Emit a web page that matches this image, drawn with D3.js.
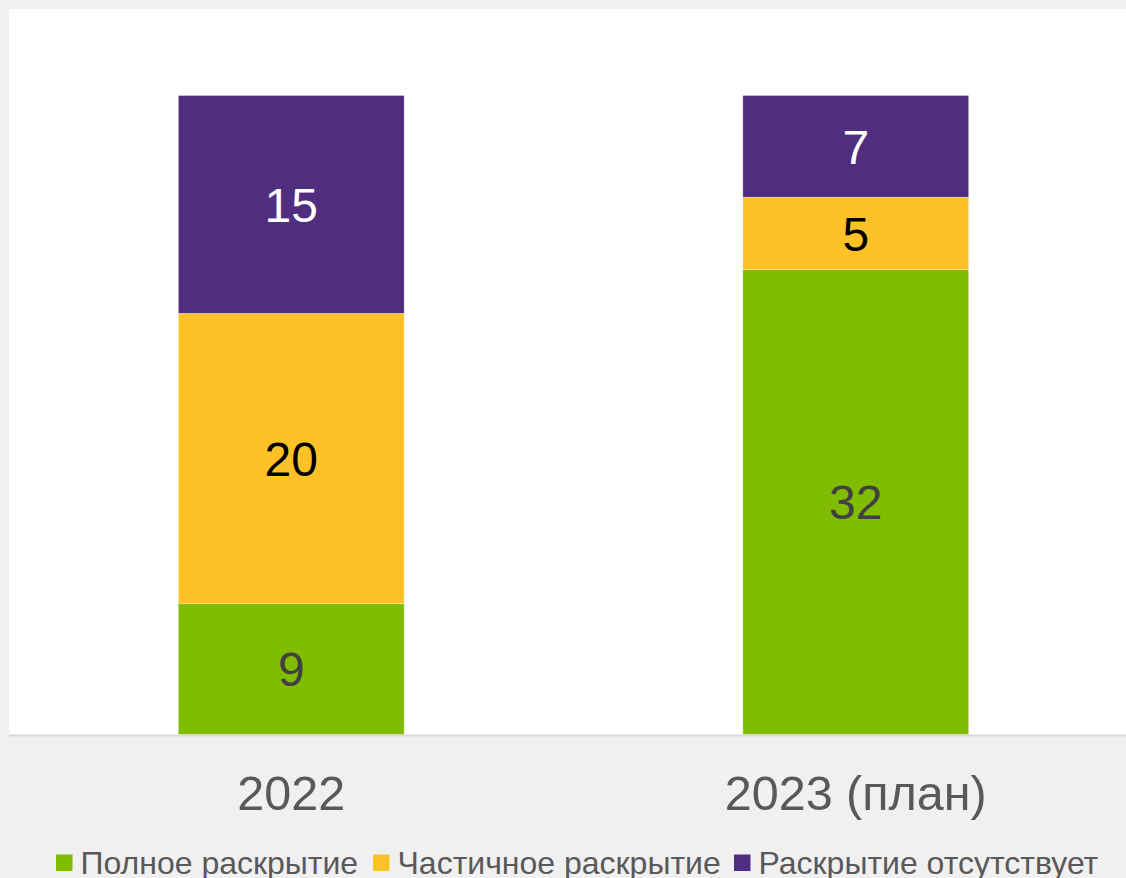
<!DOCTYPE html>
<html>
<head>
<meta charset="utf-8">
<script src="https://cdn.jsdelivr.net/npm/d3@7/dist/d3.min.js"></script>
<style>
  html, body { margin: 0; padding: 0; background: #f0f0f0; overflow: hidden; }
  svg { display: block; }
  text { font-family: "Liberation Sans", Arial, sans-serif; }
</style>
</head>
<body>
<svg id="chart" width="1126" height="878"></svg>
<script>
const categories = ["2022", "2023 (план)"];
const seriesNames = ["Полное раскрытие", "Частичное раскрытие", "Раскрытие отсутствует"];
const fullDisclosure = [9, 32];
const partialDisclosure = [20, 5];
const noDisclosure = [15, 7];

const seriesColors = ["#80bc00", "#fec128", "#4f2d7f"];
const labelColors = ["#404040", "#000000", "#ffffff"];

const W = 1126, H = 878;
const svg = d3.select("#chart");

const plot = { left: 9, top: 9, right: 1138, bottom: 734.5 };

// background & plot area
svg.append("rect").attr("x", 0).attr("y", 0).attr("width", W).attr("height", H).attr("fill", "#f0f0f0");
svg.append("rect").attr("x", plot.left).attr("y", plot.top)
  .attr("width", plot.right - plot.left).attr("height", plot.bottom - plot.top).attr("fill", "#ffffff");

const rows = categories.map((c, i) => ({
  cat: c,
  [seriesNames[0]]: fullDisclosure[i],
  [seriesNames[1]]: partialDisclosure[i],
  [seriesNames[2]]: noDisclosure[i]
}));

const stacked = d3.stack().keys(seriesNames)(rows);

const x = d3.scaleBand().domain(categories).range([plot.left, plot.right])
  .paddingInner(0.6).paddingOuter(0.3);
const y = d3.scaleLinear().domain([0, 44]).range([plot.bottom, 95.5]);

const g = svg.append("g");
stacked.forEach((layer, si) => {
  const lg = g.append("g");
  lg.selectAll("rect").data(layer).join("rect")
    .attr("x", d => x(d.data.cat))
    .attr("width", x.bandwidth())
    .attr("y", d => y(d[1]))
    .attr("height", d => y(d[0]) - y(d[1]))
    .attr("fill", seriesColors[si])
    .attr("stroke", "rgba(255,255,255,0.5)")
    .attr("stroke-width", 0.6);
  lg.selectAll("text").data(layer).join("text")
    .attr("x", d => x(d.data.cat) + x.bandwidth() / 2)
    .attr("y", d => (y(d[0]) + y(d[1])) / 2)
    .attr("dy", "0.36em")
    .attr("text-anchor", "middle")
    .attr("font-size", 48)
    .attr("fill", labelColors[si])
    .text(d => d[1] - d[0]);
});

// axis line
const xAxis = d3.axisBottom(x).tickSize(0).tickPadding(0);
const ax = svg.append("g").attr("transform", `translate(0,${plot.bottom})`).call(xAxis);
ax.select(".domain").attr("stroke", "#d9d9d9").attr("stroke-width", 2)
  .attr("d", `M${plot.left},1H${plot.right}`);
ax.selectAll(".tick text")
  .attr("y", 75.5).attr("dy", 0)
  .attr("font-size", 48.5)
  .attr("font-family", "Liberation Sans, Arial, sans-serif")
  .attr("fill", "#595959");

// legend
const legendX = [56, 373, 734];
const legend = svg.append("g");
seriesNames.forEach((name, i) => {
  legend.append("rect").attr("x", legendX[i]).attr("y", 854.5)
    .attr("width", 16.5).attr("height", 16.5).attr("fill", seriesColors[i]);
  legend.append("text").attr("x", legendX[i] + 24.5).attr("y", 874)
    .attr("font-size", 32).attr("fill", "#595959").text(name);
});
</script>
</body>
</html>
